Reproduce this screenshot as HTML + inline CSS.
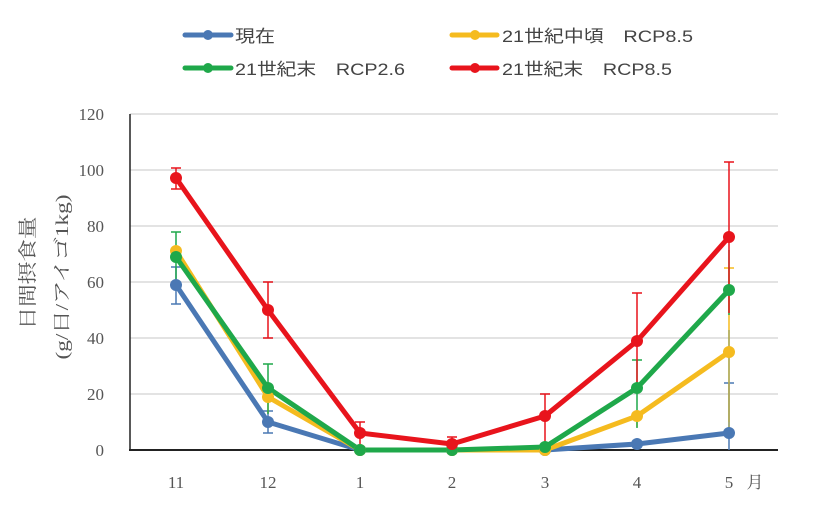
<!DOCTYPE html>
<html><head><meta charset="utf-8"><style>
body{margin:0;background:#fff;}
svg text{font-family:"Liberation Serif","Noto Serif CJK SC",serif;fill:#555;}
.lg{font-family:"Liberation Sans","Noto Sans CJK JP",sans-serif;font-size:17px;fill:#444;}
</style></head><body>
<svg width="827" height="523" xmlns="http://www.w3.org/2000/svg">
<!-- legend -->
<g stroke-width="5" stroke-linecap="round">
<line x1="185" y1="35" x2="231" y2="35" stroke="#4a78b4"/><circle cx="208" cy="35" r="5" fill="#4a78b4"/>
<line x1="452" y1="35" x2="497" y2="35" stroke="#f5bb1f"/><circle cx="475" cy="35" r="5" fill="#f5bb1f"/>
<line x1="185" y1="68" x2="231" y2="68" stroke="#1fa84a"/><circle cx="208" cy="68" r="5" fill="#1fa84a"/>
<line x1="452" y1="68" x2="497" y2="68" stroke="#e8141c"/><circle cx="475" cy="68" r="5" fill="#e8141c"/>
</g>
<text class="lg" x="235" y="42" textLength="40" lengthAdjust="spacingAndGlyphs">現在</text>
<text class="lg" x="502" y="42" textLength="191" lengthAdjust="spacingAndGlyphs">21世紀中頃　RCP8.5</text>
<text class="lg" x="235" y="75" textLength="170" lengthAdjust="spacingAndGlyphs">21世紀末　RCP2.6</text>
<text class="lg" x="502" y="75" textLength="170" lengthAdjust="spacingAndGlyphs">21世紀末　RCP8.5</text>
<!-- grid -->
<g stroke="#e3e3e3" stroke-width="2">
<line x1="130" y1="114" x2="778" y2="114"/><line x1="130" y1="170" x2="778" y2="170"/>
<line x1="130" y1="226" x2="778" y2="226"/><line x1="130" y1="282" x2="778" y2="282"/>
<line x1="130" y1="338" x2="778" y2="338"/><line x1="130" y1="394" x2="778" y2="394"/>
</g>
<line x1="130" y1="114" x2="130" y2="451" stroke="#222" stroke-width="1.5"/>
<line x1="129" y1="450" x2="778" y2="450" stroke="#222" stroke-width="2"/>
<g font-size="17" text-anchor="end">
<text x="104" y="120">120</text><text x="104" y="176">100</text><text x="104" y="232">80</text>
<text x="104" y="288">60</text><text x="104" y="344">40</text><text x="104" y="400">20</text><text x="104" y="456">0</text>
</g>
<g font-size="17" text-anchor="middle">
<text x="176" y="488">11</text><text x="268" y="488">12</text><text x="360" y="488">1</text>
<text x="452" y="488">2</text><text x="545" y="488">3</text><text x="637" y="488">4</text><text x="729" y="488">5</text>
<text x="755" y="488">月</text>
</g>
<text transform="translate(34,273) rotate(-90)" font-size="19" text-anchor="middle" textLength="113" lengthAdjust="spacingAndGlyphs">日間摂食量</text>
<text transform="translate(68,277) rotate(-90)" font-size="18" text-anchor="middle" textLength="165" lengthAdjust="spacingAndGlyphs">(g/日/アイゴ1kg)</text>
<!-- error bars -->
<g stroke-width="1.5">
<path stroke="#4a78b4" d="M176 304V267M171 304h10M171 267h10M268 433V411M263 433h10M263 411h10M729 450V383M724 383h10"/>
<path stroke="#f5bb1f" d="M268 413V388M263 388h10M729 422V268M724 268h10M637 427V414"/>
<path stroke="#a8a860" d="M729 432V330"/>
<path stroke="#1fa84a" d="M176 279V232M171 232h10M268 414V364M263 364h10M637 428V360M632 360h10M729 315V250"/>
<path stroke="#e8141c" d="M176 189V168M171 189h10M171 168h10M268 338V282M263 338h10M263 282h10M360 444V422M355 422h10M452 450V437M447 437h10M545 450V394M540 394h10M637 386V293M632 293h10M729 313V162M724 162h10"/>
</g>
<!-- series -->
<g fill="none" stroke-width="5" stroke-linejoin="round">
<polyline stroke="#4a78b4" points="176,285 268,422 360,450 452,450 545,450 637,444 729,433"/>
<polyline stroke="#f5bb1f" points="176,251 268,397 360,450 452,450 545,450 637,416 729,352"/>
<polyline stroke="#1fa84a" points="176,257 268,388 360,450 452,450 545,447 637,388 729,290"/>
<polyline stroke="#e8141c" points="176,178 268,310 360,433 452,444 545,416 637,341 729,237"/>
</g>
<g fill="#4a78b4"><circle cx="176" cy="285" r="6"/><circle cx="268" cy="422" r="6"/><circle cx="360" cy="450" r="6"/><circle cx="452" cy="450" r="6"/><circle cx="545" cy="450" r="6"/><circle cx="637" cy="444" r="6"/><circle cx="729" cy="433" r="6"/></g>
<g fill="#f5bb1f"><circle cx="176" cy="251" r="6"/><circle cx="268" cy="397" r="6"/><circle cx="360" cy="450" r="6"/><circle cx="452" cy="450" r="6"/><circle cx="545" cy="450" r="6"/><circle cx="637" cy="416" r="6"/><circle cx="729" cy="352" r="6"/></g>
<g fill="#1fa84a"><circle cx="176" cy="257" r="6"/><circle cx="268" cy="388" r="6"/><circle cx="360" cy="450" r="6"/><circle cx="452" cy="450" r="6"/><circle cx="545" cy="447" r="6"/><circle cx="637" cy="388" r="6"/><circle cx="729" cy="290" r="6"/></g>
<g fill="#e8141c"><circle cx="176" cy="178" r="6"/><circle cx="268" cy="310" r="6"/><circle cx="360" cy="433" r="6"/><circle cx="452" cy="444" r="6"/><circle cx="545" cy="416" r="6"/><circle cx="637" cy="341" r="6"/><circle cx="729" cy="237" r="6"/></g>
</svg>
</body></html>
